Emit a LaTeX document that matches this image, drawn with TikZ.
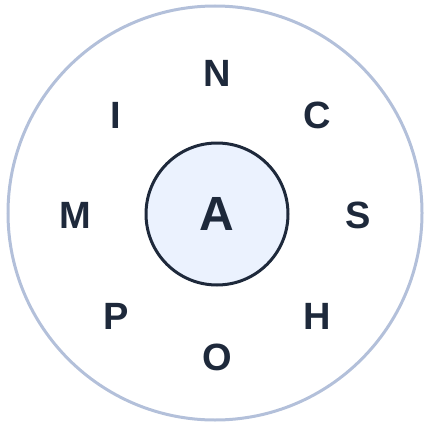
\documentclass[tikz,border=0pt]{standalone}
\usepackage{fontspec}
\setmainfont{Liberation Sans}
\usetikzlibrary{positioning}
\definecolor{ink}{HTML}{1E293B}
\definecolor{ringline}{HTML}{B3C0DA}
\definecolor{corefill}{HTML}{EBF2FE}
\tikzset{
  letter/.style={text=ink,font=\fontsize{38}{38}\selectfont\bfseries,inner sep=0pt},
}
\begin{document}
\begin{tikzpicture}[x=1pt,y=-1pt]
\useasboundingbox (0,0) rectangle (423,425);
\node[draw=ringline,line width=3pt,circle,minimum size=414pt,inner sep=0pt] (ring) at (215,213) {};
\node[draw=ink,fill=corefill,line width=3pt,circle,minimum size=142pt,inner sep=0pt,text=ink,font=\fontsize{48}{48}\selectfont\bfseries] (core) at (217,214) {A};
\node[letter] (n) at (217,73) {N};
\node[letter] (c) at (317,115) {C};
\node[letter] (s) at (358,215) {S};
\node[letter] (h) at (317,316) {H};
\node[letter] (o) at (217,357) {O};
\node[letter] (p) at (116,316) {P};
\node[letter] (m) at (75,215) {M};
\node[letter] (i) at (116,115) {I};
\end{tikzpicture}
\end{document}
